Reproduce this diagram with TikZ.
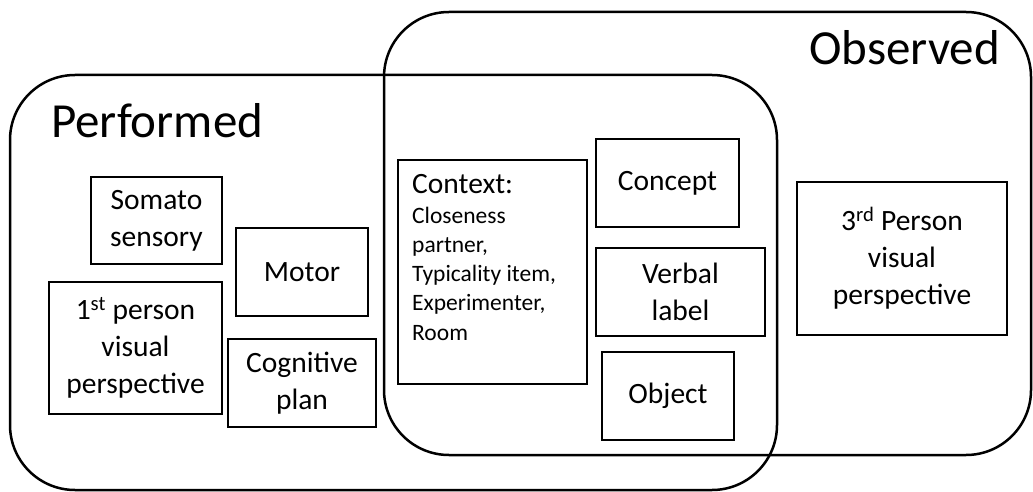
\documentclass[tikz,border=0pt]{standalone}
\usepackage{fontspec}
\setmainfont{Carlito}
\begin{document}
\begin{tikzpicture}[x=1pt,y=-1pt,
  region/.style={draw=black,line width=2.5pt,rounded corners=65pt},
  box/.style={draw=black,line width=1.5pt,inner sep=0pt,align=center,
    font=\fontsize{29.5}{37}\selectfont},
  title/.style={anchor=base west,inner sep=0pt,font=\fontsize{49}{58}\selectfont},
]
\useasboundingbox (0,0) rectangle (1033,492);
% regions
\draw[region] (10,75) rectangle (777,490);
\draw[region] (384,12) rectangle (1031,455);
\node[title] (performed) at (51,138) {Performed};
\node[title] (observed) at (809,65) {Observed};
% performed boxes
\node[box,minimum width=131pt,minimum height=87pt] (somato) at (156.5,220.5) {Somato\\sensory};
\node[box,minimum width=132pt,minimum height=88pt] (motor) at (302,272) {Motor};
\node[box,minimum width=173pt,minimum height=132pt] (first) at (135.5,348) {1\textsuperscript{st} person\\visual\\perspective};
\node[box,minimum width=148pt,minimum height=88pt] (cog) at (302,383) {Cognitive\\plan};
% shared boxes
\node[box,minimum width=189pt,minimum height=224pt] (context) at (492.5,272) {};
\node[anchor=base west,inner sep=0pt,font=\fontsize{29.5}{37}\selectfont] (contexttitle) at (412,193) {Context:};
\node[anchor=base west,inner sep=0pt,align=left,font=\fontsize{23.5}{29.2}\selectfont] (contextitems) at (412,340)
  {Closeness\\partner,\\Typicality item,\\Experimenter,\\Room};
\node[box,minimum width=143pt,minimum height=88pt] (concept) at (667.5,183) {Concept};
\node[box,minimum width=169pt,minimum height=88pt] (verbal) at (680.5,292) {Verbal\\label};
\node[box,minimum width=132pt,minimum height=88pt] (object) at (668,396) {Object};
% observed box
\node[box,minimum width=210pt,minimum height=153pt] (third) at (902,258.5) {3\textsuperscript{rd} Person\\visual\\perspective};
\end{tikzpicture}
\end{document}
